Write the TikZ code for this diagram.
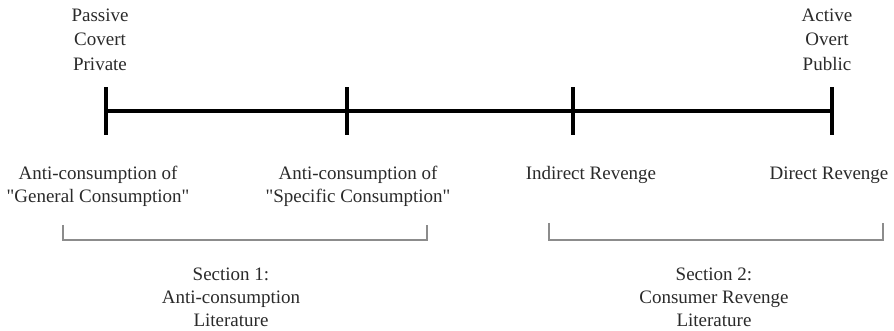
\documentclass[tikz,border=0pt]{standalone}
\usepackage{fontspec}
\setmainfont{Liberation Serif}[Ligatures=TeXOff]
\usepackage{xcolor}
\usetikzlibrary{calc}
\usetikzlibrary{positioning}
\definecolor{txtgray}{HTML}{2A2A2A}
\definecolor{brkgray}{HTML}{8C8C8C}
\tikzset{
  tick/.style={fill=black, inner sep=0pt, minimum width=4.6pt, minimum height=48pt},
  axisline/.style={line width=4pt, black},
  toplbl/.style={align=center, text=txtgray, inner sep=0pt, font=\fontsize{19}{24.5}\selectfont},
  lbl/.style={align=center, text=txtgray, inner sep=0pt, font=\fontsize{19}{23}\selectfont},
  bracket/.style={brkgray, line width=1.1pt}
}
\begin{document}
\begin{tikzpicture}[x=1pt,y=-1pt]
        \useasboundingbox (0,0) rectangle (894,331);
        %TICKS
        \node[tick] (t1) at (106,111) {};
        \node[tick] (t2) at (347,111) {};
        \node[tick] (t3) at (573,111) {};
        \node[tick] (t4) at (832,111) {};
        \draw[axisline] (t1.center) -- (t4.center);
        %ENDS
        \node[toplbl] (passive) at (100,39.5) {Passive\\Covert\\Private};
        \node[toplbl] (active) at (827,39.5) {Active\\Overt\\Public};
        %LABELS
        \node[lbl] (general) at (98,186.5) {Anti-consumption of\\"General Consumption"};
        \node[lbl] (specific) at (358,186.5) {Anti-consumption of\\"Specific Consumption"};
        \node[lbl] (indirect) at (591,175) {Indirect Revenge};
        \node[lbl] (direct) at (829,175) {Direct Revenge};
        %BRACKETS
        \draw[bracket] (63,225) -- (63,240) -- (427,240) -- (427,225);
        \draw[bracket] (549,223) -- (549,240) -- (883,240) -- (883,223);
        %SECTIONS
        \node[lbl] (sec1) at (231,297.5) {Section 1:\\Anti-consumption\\Literature};
        \node[lbl] (sec2) at (714,297.5) {Section 2:\\Consumer Revenge\\Literature};
    \end{tikzpicture}
\end{document}
